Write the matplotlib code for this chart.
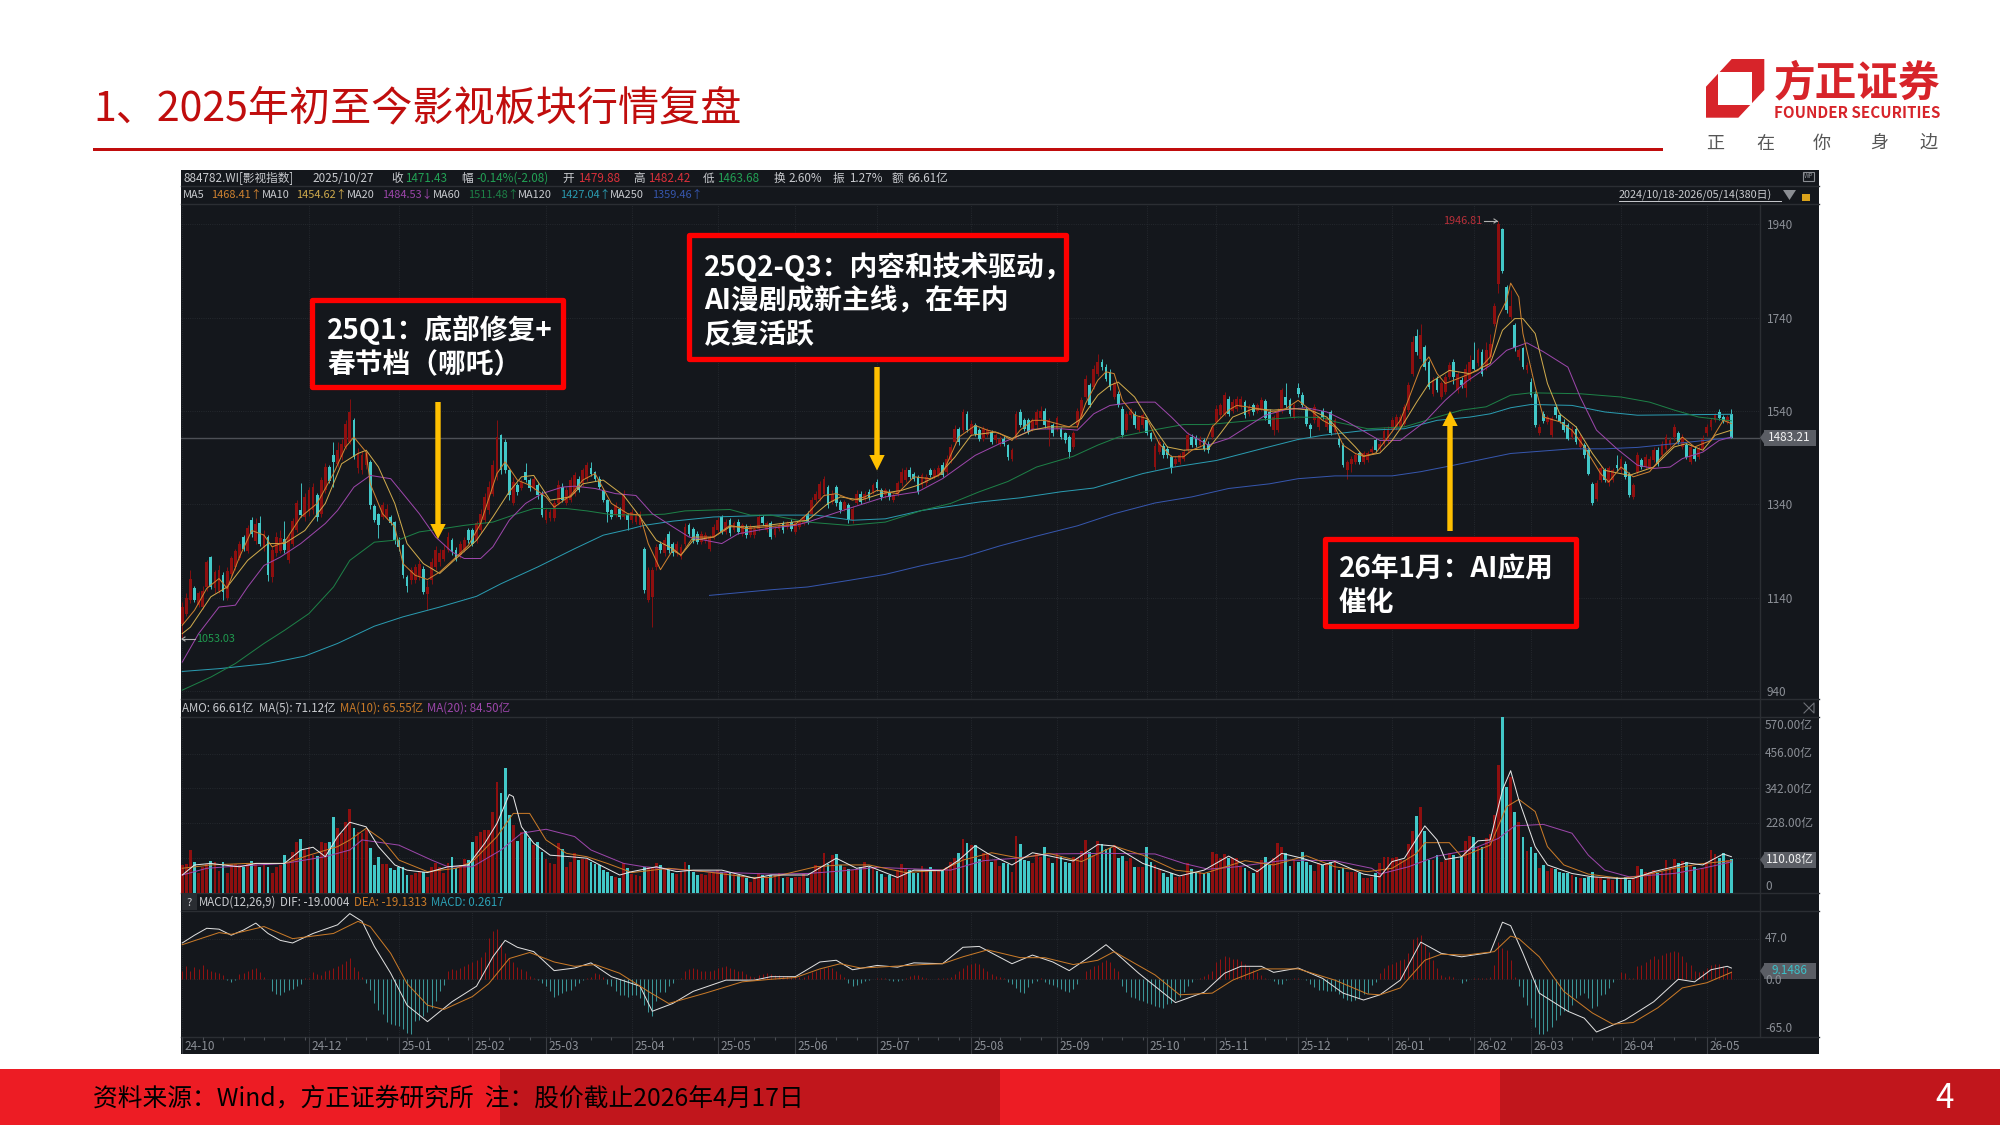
import numpy as np
import matplotlib
matplotlib.use('Agg')
import matplotlib.pyplot as plt
from matplotlib.patches import Rectangle, Polygon

plt.rcParams['font.family'] = ['Noto Sans CJK SC', 'DejaVu Sans']

# K线 (380 根, 2024/10/18 - 2026/05/14)
opens = [1084,1105,1135,1160,1125,1120,1163,1227,1160,1155,
 1188,1140,1190,1205,1225,1270,1240,1306,1262,1299,
 1248,1270,1185,1235,1240,1266,1220,1255,1285,1327,
 1313,1325,1327,1359,1320,1370,1420,1445,1427,1442,
 1463,1474,1520,1417,1413,1424,1431,1336,1320,1313,
 1313,1313,1302,1263,1252,1184,1177,1177,1184,1202,
 1149,1177,1206,1216,1224,1242,1263,1242,1231,1242,
 1284,1284,1263,1284,1306,1327,1363,1398,1488,1474,
 1413,1342,1381,1374,1409,1392,1374,1381,1363,1306,
 1310,1310,1342,1377,1342,1349,1363,1395,1385,1395,
 1417,1409,1395,1370,1349,1327,1317,1331,1313,1317,
 1306,1302,1295,1245,1135,1142,1206,1256,1235,1277,
 1256,1235,1228,1256,1295,1288,1277,1260,1263,1245,
 1270,1285,1313,1281,1306,1284,1302,1277,1292,1274,
 1274,1288,1313,1284,1299,1275,1287,1299,1292,1302,
 1281,1292,1299,1320,1320,1349,1352,1363,1377,1345,
 1377,1345,1331,1338,1306,1342,1363,1352,1367,1367,
 1388,1370,1359,1367,1349,1363,1385,1392,1413,1406,
 1399,1381,1385,1413,1399,1402,1424,1409,1434,1474,
 1502,1499,1534,1491,1509,1499,1481,1488,1495,1477,
 1470,1481,1467,1438,1484,1538,1521,1520,1502,1509,
 1524,1541,1502,1509,1502,1502,1492,1484,1463,1509,
 1527,1570,1595,1592,1620,1645,1634,1624,1570,1577,
 1545,1499,1531,1534,1499,1509,1520,1492,1420,1452,
 1466,1459,1442,1427,1431,1438,1456,1484,1483,1467,
 1477,1470,1484,1517,1531,1534,1566,1541,1545,1549,
 1559,1534,1552,1541,1545,1561,1538,1499,1499,1541,
 1570,1563,1527,1590,1574,1545,1509,1520,1506,1541,
 1506,1538,1495,1481,1467,1413,1427,1431,1449,1431,
 1434,1452,1477,1459,1470,1477,1499,1506,1506,1513,
 1542,1620,1700,1652,1677,1645,1577,1609,1570,1581,
 1613,1645,1584,1606,1590,1609,1650,1642,1667,1634,
 1656,1727,1813,1929,1806,1742,1724,1656,1674,1627,
 1602,1577,1492,1534,1517,1488,1549,1531,1517,1509,
 1484,1502,1463,1467,1456,1384,1352,1392,1413,1385,
 1392,1424,1413,1427,1406,1356,1410,1434,1420,1420,
 1434,1456,1445,1459,1467,1484,1492,1463,1467,1431,
 1459,1442,1459,1492,1506,1520,1538,1527,1517,1534]
closes = [1120,1140,1180,1135,1150,1155,1216,1163,1195,1200,
 1152,1198,1225,1240,1256,1245,1290,1277,1298,1256,
 1276,1188,1242,1270,1268,1242,1270,1305,1342,1317,
 1356,1370,1377,1313,1392,1420,1391,1431,1456,1470,
 1513,1538,1442,1449,1445,1449,1338,1306,1295,1338,
 1331,1299,1263,1249,1188,1165,1199,1206,1213,1152,
 1163,1216,1242,1235,1242,1270,1238,1224,1256,1263,
 1263,1256,1299,1320,1356,1377,1424,1484,1413,1413,
 1360,1388,1367,1388,1392,1374,1395,1360,1317,1327,
 1324,1342,1381,1349,1370,1392,1402,1370,1413,1424,
 1406,1395,1377,1349,1324,1313,1338,1313,1360,1306,
 1324,1320,1320,1156,1199,1199,1249,1242,1263,1242,
 1235,1256,1249,1292,1277,1263,1260,1277,1274,1270,
 1292,1306,1281,1302,1279,1299,1281,1295,1274,1292,
 1288,1313,1299,1299,1270,1288,1295,1284,1299,1288,
 1299,1302,1313,1302,1349,1363,1384,1395,1338,1363,
 1342,1327,1345,1306,1331,1363,1345,1363,1356,1381,
 1374,1356,1370,1356,1359,1385,1409,1413,1399,1395,
 1367,1402,1399,1402,1413,1417,1402,1438,1463,1502,
 1474,1538,1499,1513,1491,1481,1502,1499,1474,1488,
 1481,1470,1442,1456,1534,1509,1502,1495,1520,1538,
 1541,1509,1520,1492,1524,1484,1477,1452,1492,1541,
 1563,1609,1552,1631,1645,1634,1609,1592,1599,1552,
 1488,1534,1541,1509,1527,1531,1492,1481,1466,1474,
 1445,1445,1417,1438,1445,1452,1488,1467,1467,1481,
 1459,1456,1506,1545,1552,1574,1534,1559,1566,1566,
 1531,1549,1538,1552,1563,1524,1513,1527,1541,1584,
 1552,1534,1552,1577,1552,1513,1502,1549,1524,1527,
 1524,1492,1520,1467,1424,1431,1438,1445,1431,1449,
 1449,1459,1456,1470,1498,1502,1520,1527,1527,1549,
 1595,1688,1666,1702,1634,1592,1606,1584,1599,1613,
 1638,1613,1620,1595,1631,1645,1630,1670,1620,1670,
 1684,1766,1941,1839,1756,1766,1674,1670,1634,1638,
 1574,1509,1506,1519,1527,1524,1531,1519,1499,1481,
 1502,1474,1484,1445,1406,1342,1386,1417,1392,1417,
 1413,1417,1438,1399,1360,1381,1445,1420,1442,1438,
 1456,1427,1470,1484,1477,1506,1474,1484,1442,1463,
 1438,1459,1481,1506,1520,1531,1524,1519,1527,1483.21]
highs = [1130,1150,1199,1165,1155,1165,1220,1230,1200,1210,
 1195,1205,1230,1245,1262,1275,1295,1312,1310,1316,
 1285,1275,1250,1280,1285,1305,1278,1310,1350,1385,
 1365,1378,1385,1365,1398,1428,1425,1474,1474,1480,
 1520,1566,1525,1460,1455,1455,1436,1340,1322,1345,
 1340,1318,1305,1270,1255,1188,1205,1212,1220,1208,
 1177,1225,1250,1245,1255,1280,1268,1248,1262,1270,
 1290,1290,1305,1330,1365,1390,1435,1520,1490,1480,
 1415,1398,1385,1395,1428,1396,1400,1385,1368,1332,
 1330,1350,1392,1385,1378,1398,1410,1400,1418,1430,
 1430,1412,1400,1375,1352,1330,1345,1335,1370,1322,
 1330,1326,1326,1248,1205,1205,1255,1262,1270,1282,
 1260,1262,1255,1300,1300,1292,1282,1283,1280,1275,
 1298,1312,1318,1308,1310,1305,1308,1300,1298,1298,
 1294,1320,1318,1305,1305,1293,1300,1304,1304,1308,
 1304,1307,1318,1325,1355,1368,1390,1400,1382,1370,
 1382,1350,1350,1342,1336,1370,1368,1368,1372,1386,
 1395,1374,1375,1372,1365,1390,1418,1420,1420,1410,
 1403,1408,1405,1418,1418,1424,1430,1445,1470,1510,
 1506,1545,1540,1520,1515,1503,1508,1504,1500,1493,
 1486,1486,1470,1460,1540,1545,1525,1525,1525,1544,
 1550,1546,1525,1514,1530,1506,1496,1488,1498,1546,
 1570,1618,1600,1638,1663,1652,1640,1630,1605,1582,
 1550,1540,1546,1540,1532,1536,1525,1496,1472,1480,
 1472,1464,1446,1443,1450,1458,1495,1490,1489,1486,
 1482,1475,1512,1552,1558,1580,1572,1565,1572,1572,
 1564,1555,1558,1558,1570,1566,1544,1532,1546,1590,
 1599,1568,1558,1600,1580,1550,1514,1555,1530,1546,
 1530,1543,1525,1486,1472,1436,1443,1450,1454,1454,
 1454,1464,1482,1475,1505,1508,1528,1533,1533,1555,
 1602,1700,1716,1727,1682,1650,1612,1615,1605,1620,
 1645,1652,1626,1612,1640,1660,1688,1676,1672,1688,
 1706,1772,1946.81,1932,1810,1799,1728,1675,1678,1644,
 1610,1582,1512,1540,1532,1530,1555,1536,1522,1514,
 1508,1508,1490,1472,1460,1388,1392,1423,1418,1423,
 1418,1446,1444,1432,1410,1386,1452,1440,1448,1444,
 1462,1462,1476,1490,1484,1513,1498,1490,1472,1470,
 1464,1465,1488,1512,1525,1536,1545,1532,1532,1544]
lows = [1053,1100,1128,1130,1120,1115,1155,1158,1150,1150,
 1135,1135,1185,1200,1220,1240,1235,1270,1255,1250,
 1240,1175,1173,1230,1235,1235,1215,1250,1280,1313,
 1305,1315,1320,1305,1312,1365,1385,1377,1420,1435,
 1458,1470,1437,1408,1405,1415,1330,1302,1267,1308,
 1308,1295,1255,1240,1183,1153,1170,1172,1178,1148,
 1113,1170,1200,1208,1218,1238,1232,1218,1225,1238,
 1258,1250,1258,1278,1300,1320,1358,1392,1405,1408,
 1350,1338,1360,1370,1388,1368,1370,1352,1312,1300,
 1305,1305,1338,1345,1338,1345,1358,1366,1380,1390,
 1400,1390,1372,1345,1302,1308,1312,1308,1308,1285,
 1300,1298,1290,1150,1130,1078,1200,1236,1230,1235,
 1230,1230,1222,1250,1272,1258,1255,1255,1258,1240,
 1265,1280,1276,1276,1272,1280,1276,1272,1268,1270,
 1268,1282,1295,1280,1265,1270,1282,1278,1288,1283,
 1276,1288,1295,1298,1315,1344,1347,1358,1332,1340,
 1336,1322,1326,1300,1300,1338,1340,1348,1350,1362,
 1368,1350,1354,1350,1344,1358,1380,1387,1394,1390,
 1362,1376,1380,1398,1395,1398,1398,1404,1428,1468,
 1468,1494,1494,1486,1486,1476,1476,1484,1470,1472,
 1465,1465,1435,1432,1480,1505,1498,1490,1498,1504,
 1520,1504,1466,1486,1498,1480,1472,1440,1458,1504,
 1522,1565,1548,1588,1616,1628,1604,1586,1565,1548,
 1484,1494,1526,1504,1494,1504,1488,1476,1414,1448,
 1440,1440,1408,1422,1426,1433,1452,1462,1462,1462,
 1454,1450,1480,1512,1526,1530,1530,1536,1540,1544,
 1526,1530,1532,1536,1540,1520,1508,1488,1494,1536,
 1546,1530,1522,1570,1548,1508,1485,1515,1500,1522,
 1500,1488,1490,1462,1420,1395,1410,1426,1426,1426,
 1430,1448,1452,1455,1465,1472,1494,1500,1500,1508,
 1538,1615,1660,1648,1628,1588,1572,1580,1565,1576,
 1608,1598,1578,1590,1570,1604,1627,1636,1614,1628,
 1650,1722,1793,1835,1750,1738,1668,1650,1630,1622,
 1570,1505,1488,1514,1512,1484,1526,1514,1494,1477,
 1480,1470,1458,1440,1402,1338,1348,1388,1388,1380,
 1388,1412,1408,1395,1356,1352,1405,1415,1415,1415,
 1430,1422,1440,1454,1462,1478,1470,1458,1438,1427,
 1433,1438,1455,1487,1500,1516,1520,1514,1512,1483]

# 成交额 (亿)
amounts = [90,95,140,100,65,85,95,105,100,70,
 100,65,95,95,90,85,95,105,95,85,
 95,85,65,85,90,123,100,132,167,176,
 140,150,123,120,167,162,167,249,211,195,
 233,276,211,200,195,205,145,90,118,94,
 94,80,76,85,85,58,58,65,69,69,
 52,85,96,85,65,96,116,80,90,112,
 107,165,186,200,205,205,265,364,328,408,
 255,222,170,200,203,178,156,167,132,112,
 96,94,164,144,85,102,129,107,112,112,
 102,94,90,74,69,55,52,47,96,80,
 61,58,55,83,83,80,99,90,80,74,
 65,61,69,102,90,69,58,61,58,63,
 69,74,69,65,63,61,58,52,47,36,
 47,65,58,52,58,58,66,47,52,49,
 52,52,61,47,66,91,83,131,94,123,
 127,91,85,77,74,74,85,102,85,80,
 71,61,52,58,47,74,94,80,74,66,
 66,87,74,85,74,71,71,85,102,113,
 129,175,162,156,156,110,131,129,102,107,
 87,96,94,69,187,160,107,104,99,129,
 118,149,113,99,129,117,102,96,118,113,
 137,173,134,123,170,160,142,145,156,113,
 121,105,113,83,85,85,149,102,91,78,
 63,50,66,52,52,58,96,78,69,69,
 63,66,132,127,115,127,113,113,113,83,
 80,72,66,77,107,118,91,115,164,149,
 129,89,107,102,134,102,91,71,96,91,
 96,102,105,74,82,67,69,67,63,49,
 49,52,66,98,116,118,113,118,107,107,
 160,203,251,282,203,107,107,123,102,107,
 129,123,107,118,170,187,184,151,151,178,
 192,255,419,590,348,380,266,233,184,137,
 151,129,80,91,71,82,77,67,63,63,
 58,52,49,49,52,69,52,47,42,49,
 42,52,49,50,42,47,87,77,69,69,
 74,66,69,107,85,110,98,104,102,91,
 85,74,80,102,140,127,115,129,107,110.08]

# MACD 柱
macd_hist = [9,15,10,14,12,16,12,9,8,7,5,
 -1,-3,-1,6,7,9,12,13,8,3,0,
 -14,-17,-18,-15,-12,-11,-8,-5,
 1,2,8,6,5,9,11,13,15,18,21,25,14,9,3,
 -4,-12,-27,-35,-40,-50,-52,-53,-54,-58,-62,-63,-48,-47,-43,-38,-33,-25,-14,-7,
 9,12,11,13,15,18,20,22,26,32,48,56,58,42,30,25,20,14,12,9,4,1,
 -1,-4,-8,-14,-20,-18,-16,-14,-12,-8,-4,-1,
 1,3,7,6,3,
 -5,-8,-14,-18,-18,-20,-18,-18,-22,-30,-38,-42,-25,-15,-15,-8,-4,
 0,1,
 10,12,13,12,10,10,9,11,13,14,15,13,12,10,9,6,4,3,5,6,7,6,
 5,5,4,4,3,3,3,3,5,8,10,12,13,14,13,10,
 6,3,-4,-8,-7,-4,-2,-1,0,1,2,1,-1,-2,-2,-1,2,4,5,5,3,1,0,0,1,1,1,3,6,10,13,17,18,19,18,13,9,6,4,3,1,
 -3,-6,-10,-15,-16,-9,-4,-2,
 1,-3,-5,-7,-9,-11,-14,-15,-11,-6,0,
 10,12,15,17,20,22,20,13,9,
 -8,-15,-20,-22,-24,-25,-27,-29,-31,-32,-33,-29,-27,-24,-20,-15,-8,-3,
 0,2,4,6,10,20,24,27,26,24,23,21,18,14,11,8,5,2,0,-2,-5,-5,-1,0,1,1,0,-1,
 -6,-9,-12,-12,-13,-14,-14,-17,-22,-24,-25,-24,-22,-17,-16,-7,-3,
 7,13,17,18,20,22,24,30,47,49,51,40,32,22,13,5,3,4,3,0,-4,-2,0,1,1,1,2,3,17,43,36,34,22,3,
 -8,-20,-30,-45,-55,-63,-63,-60,-55,-47,-41,-37,-37,-30,-22,-18,-16,-22,-33,-31,-18,-17,-10,-3,
 0,8,7,2,2,15,17,20,24,27,24,28,30,32,33,32,27,20,17,9,8,9,13,17,18,18,15,13,9.15]

# 均线读数: 序号 / 数值
ma5_idx = [0,3,6,9,11,14,17,20,22,25,29,33,37,40,42,45,46,49,52,54,57,60,63,67,70,73,77,79,82,85,89,91,95,98,101,105,109,112,114,117,120,122,125,130,134,138,143,
 150,153,157,160,164,167,170,175,179,183,186,190,194,197,200,203,205,208,211,214,217,219,221,224,226,228,230,233,236,239,242,245,247,250,252,256,258,262,267,270,273,276,279,282,284,287,289,292,295,298,
 299,303,305,307,309,312,317,320,322,324,325,327,328,331,333,337,340,343,347,349,352,355,359,362,367,370,374,377,379]
ma5_val = [1081,1113,1160,1181,1160,1227,1284,1274,1249,1259,1313,1342,1406,1463,1484,1452,1384,1320,1292,1213,1188,1179,1195,1227,1252,1299,1406,1431,1392,1381,1356,1334,1359,1392,1406,1342,1320,1317,1256,1200,1242,1231,1270,1270,1295,1288,1292,
 1297,1320,1359,1363,1349,1356,1370,1363,1399,1395,1406,1484,1509,1499,1492,1477,1499,1520,1520,1513,1506,1506,1556,1606,1624,1620,1563,1531,1524,1470,1442,1442,1456,1467,1506,1542,1552,1547,1538,1545,1563,1542,1520,1506,1467,1449,1443,1450,1484,1520,
 1542,1634,1656,1620,1599,1609,1627,1656,1742,1777,1814,1784,1706,1592,1527,1517,1499,1463,1406,1388,1420,1399,1410,1442,1484,1463,1477,1520,1513]
ma10_idx = [0,2,7,11,16,21,25,30,35,39,43,45,48,52,55,59,63,67,72,76,80,83,86,90,95,98,103,108,112,116,120,122,125,130,134,139,143,
 153,158,161,166,171,176,180,185,189,193,199,203,208,212,217,220,224,227,229,233,237,241,245,251,254,257,262,267,272,276,280,283,287,289,293,296,298,
 302,305,310,315,320,323,326,328,331,334,337,341,345,348,354,360,365,368,372,375,379]
ma10_val = [1063,1077,1142,1163,1220,1256,1256,1284,1342,1427,1449,1456,1420,1342,1256,1213,1192,1224,1263,1313,1367,1399,1402,1349,1356,1384,1392,1359,1313,1263,1245,1231,1263,1270,1292,1292,1295,
 1306,1342,1356,1349,1363,1370,1381,1402,1441,1488,1495,1481,1499,1506,1506,1524,1574,1595,1602,1570,1513,1463,1456,1459,1492,1527,1545,1542,1545,1542,1527,1499,1463,1443,1450,1477,1502,
 1559,1599,1627,1620,1642,1713,1738,1738,1706,1599,1534,1506,1449,1413,1402,1420,1463,1470,1456,1488,1499]
ma20_idx = [0,4,9,13,16,20,24,29,35,38,42,46,51,54,58,62,66,69,73,76,80,84,88,93,96,101,106,111,115,120,124,128,132,136,143,
 150,153,163,172,180,186,194,200,205,208,215,219,223,227,233,238,242,246,251,256,261,265,270,275,280,285,290,293,298,
 304,309,314,320,324,329,333,339,342,346,351,356,360,364,367,372,376,379]
ma20_val = [1002,1063,1120,1124,1163,1209,1227,1256,1299,1327,1377,1402,1395,1363,1320,1270,1238,1224,1224,1249,1306,1342,1363,1377,1379,1374,1363,1359,1320,1292,1270,1263,1256,1277,1288,
 1295,1302,1331,1356,1367,1395,1445,1470,1488,1501,1502,1499,1534,1552,1559,1559,1527,1492,1467,1481,1509,1531,1543,1547,1538,1517,1492,1477,1477,
 1517,1563,1602,1638,1670,1686,1667,1634,1570,1499,1459,1424,1417,1420,1438,1452,1477,1484]
ma60_idx = [0,7,13,20,25,31,37,41,47,53,58,63,69,76,82,86,94,99,105,112,118,123,134,139,144,
 153,163,172,181,188,195,202,209,218,224,229,238,245,251,261,273,279,282,290,299,307,313,319,325,330,342,352,359,365,371,379]
ma60_val = [942,970,999,1042,1070,1106,1163,1220,1259,1264,1281,1287,1295,1302,1320,1331,1331,1326,1318,1317,1319,1326,1329,1317,1317,
 1302,1295,1302,1327,1342,1367,1389,1420,1443,1467,1484,1500,1511,1511,1519,1527,1526,1517,1502,1506,1527,1542,1549,1574,1579,1577,1570,1559,1542,1527,1519]
ma120_idx = [0,9,21,30,38,47,54,63,72,78,87,96,103,109,113,120,130,138,144,
 155,164,172,181,188,195,205,215,223,228,235,242,253,264,273,279,290,299,307,315,320,325,330,340,348,356,379]
ma120_val = [982,988,999,1015,1042,1079,1099,1120,1143,1170,1206,1245,1274,1286,1295,1304,1313,1315,1317,
 1317,1306,1309,1327,1336,1345,1354,1367,1375,1388,1406,1419,1434,1459,1479,1488,1499,1502,1520,1527,1534,1547,1554,1552,1538,1531,1533]
ma250_idx = [129,144,153,163,172,181,191,200,209,219,228,238,247,256,266,273,282,296,303,310,325,340,348,356,365,379]
ma250_val = [1145,1157,1163,1177,1190,1209,1227,1251,1272,1294,1320,1343,1356,1374,1384,1395,1401,1401,1410,1422,1449,1459,1459,1462,1470,1483]

amo5_idx = [0,3,7,10,14,18,25,29,32,35,38,41,45,48,52,55,60,65,70,74,77,80,81,83,86,90,95,99,103,107,110,116,121,125,132,140,144,
 153,160,165,168,175,179,186,190,194,197,203,208,212,218,224,228,235,244,250,256,263,269,274,279,282,289,
 293,296,299,304,307,309,313,317,320,323,325,327,331,334,340,345,351,355,360,365,368,372,377,379]
amo5_val = [58,91,96,91,85,96,96,140,149,118,184,231,216,151,91,74,66,85,91,162,227,322,315,216,162,123,118,113,85,58,69,85,69,74,74,47,58,
 58,113,80,87,50,74,72,107,154,129,91,131,121,104,158,153,96,55,74,120,69,129,113,91,102,61,
 52,102,113,219,173,109,118,170,173,337,400,304,151,91,63,52,47,47,69,85,98,91,127,118]
amo10_idx = [0,7,16,25,31,38,41,45,49,53,60,67,71,77,81,85,89,94,99,104,110,119,128,139,144,
 155,161,168,177,186,191,198,205,212,220,228,235,243,250,260,267,275,282,290,
 296,302,304,310,313,320,324,327,331,334,338,344,352,357,365,371,379]
amo10_val = [80,91,96,96,123,151,173,211,173,107,69,80,102,184,260,260,173,129,118,96,66,80,69,50,50,
 85,91,91,66,74,107,131,113,129,102,153,123,74,63,105,91,121,85,69,
 80,129,164,164,118,156,282,306,266,151,91,61,47,55,80,94,105]
amo20_idx = [0,6,11,25,35,41,44,53,61,65,71,78,83,89,96,100,108,113,128,144,
 153,161,170,181,188,196,204,212,226,238,245,251,258,270,282,291,
 293,300,307,315,322,326,333,340,344,348,354,365,372,379]
amo20_val = [58,80,85,96,118,140,173,156,107,85,85,140,195,208,184,140,96,85,69,61,
 63,71,83,77,74,105,113,127,129,127,96,77,85,107,105,80,
 61,85,120,140,178,219,224,195,123,74,52,63,80,101]

dif_idx = [0,3,6,9,12,15,18,21,24,27,32,38,41,44,47,51,55,60,66,72,76,79,82,86,91,96,100,105,112,115,120,125,133,140,144,
 150,156,160,164,170,175,179,186,191,195,203,208,213,217,222,226,229,234,243,250,255,259,264,267,273,279,284,289,
 293,298,303,308,313,320,323,325,328,332,339,343,346,350,353,360,366,370,374,378,379]
dif_val = [42,51,59,58,51,57,65,53,45,42,53,63,76,67,38,7,-30,-49,-26,-8,26,45,37,32,10,13,19,3,-8,-37,-28,-14,-1,-1,3,
 3,20,22,11,16,14,19,18,37,38,18,28,20,10,26,40,28,7,-27,-15,7,15,15,8,13,1,-16,-24,
 -18,-1,43,30,26,31,66,62,30,-16,-37,-45,-61,-53,-47,-26,0,-3,11,15,13]
dea_idx = [0,9,12,20,27,37,43,46,51,55,60,64,71,75,80,85,91,96,101,107,114,119,128,137,144,
 150,156,161,166,174,181,186,191,197,205,211,218,224,228,238,244,252,257,264,273,282,290,
 293,298,304,308,314,321,325,327,332,338,345,350,355,361,367,373,379]
dea_val = [40,54,52,61,47,53,67,61,30,-5,-30,-35,-20,-5,24,31,20,15,17,7,-14,-28,-16,-3,0,
 2,12,18,13,15,17,18,26,34,25,25,17,22,32,5,-18,-16,-1,12,12,-1,-17,
 -18,-10,22,29,28,32,50,47,26,-14,-39,-52,-50,-33,-10,-4,8]

month_idx = [0,31,53,71,89,110,131,150,170,193,214,236,253,273,296,316,330,352,373]
month_labels = ['24-10','24-12','25-01','25-02','25-03','25-04','25-05','25-06','25-07','25-08',
                '25-09','25-10','25-11','25-12','26-01','26-02','26-03','26-04','26-05']
price_ticks = [1940,1740,1540,1340,1140,940]
amount_grid = [114,228,342,456]
macd_grid = [47,0]

assert len(opens) == len(closes) == len(highs) == len(lows) == 380
assert len(amounts) == 380 and len(macd_hist) == 380

RED = '#8e0f0f'
TEAL = '#42c8c8'
PANEL = '#14171c'
LINE = '#2b2e33'
GRID = '#2a2e34'
GRAY = '#8b8f96'
LIGHT = '#c9cbcf'
C_MA5, C_MA10, C_MA20 = '#cf8230', '#cfaa4c', '#9c46aa'
C_MA60, C_MA120, C_MA250 = '#1d8047', '#2a9bb0', '#3656ad'
MA_LW = 0.72

W, H = 2000, 1125
fig = plt.figure(figsize=(W / 100, H / 100), dpi=100, facecolor='white')


def px_axes(x0, y0, x1, y1, z=1):
    a = fig.add_axes([x0 / W, 1 - y1 / H, (x1 - x0) / W, (y1 - y0) / H], zorder=z)
    a.set_facecolor('none')
    for s in a.spines.values():
        s.set_visible(False)
    return a


# 像素坐标层: 底板
bg = px_axes(0, 0, W, H, z=0)
bg.set_xlim(0, W)
bg.set_ylim(H, 0)
bg.axis('off')
bg.add_patch(Rectangle((181, 170), 1638, 884, color=PANEL, lw=0))
for y in [186, 204, 699, 717, 893, 911, 1037]:
    bg.plot([181, 1819], [y, y], color=LINE, lw=1)
bg.plot([1760, 1760], [204, 1037], color=LINE, lw=1)

x = np.arange(380)
o, c = np.array(opens, float), np.array(closes, float)
up = c >= o
cols = np.where(up, RED, TEAL)
X_LIM = (-0.3, 386)

# 主图
ax = px_axes(181, 204, 1760, 699, z=1)
ax.set_xlim(*X_LIM)
ax.set_ylim(923, 1983.5)
ax.set_xticks(month_idx)
ax.set_xticklabels([])
ax.set_yticks(price_ticks)
ax.yaxis.tick_right()
ax.tick_params(axis='both', length=0, pad=5, labelsize=8.5, labelcolor=GRAY)
ax.grid(True, color=GRID, ls=':', lw=0.6)
ax.set_axisbelow(True)
ax.axhline(1483.21, color='#4d5056', lw=1)
ax.vlines(x, lows, highs, colors=cols, lw=0.65, zorder=2)
ax.bar(x, np.abs(c - o), bottom=np.minimum(o, c), width=0.68, color=cols, lw=0, zorder=3)
for idx, val, col in [(ma250_idx, ma250_val, C_MA250), (ma120_idx, ma120_val, C_MA120),
                      (ma60_idx, ma60_val, C_MA60), (ma20_idx, ma20_val, C_MA20),
                      (ma10_idx, ma10_val, C_MA10), (ma5_idx, ma5_val, C_MA5)]:
    ax.plot(idx, val, color=col, lw=MA_LW, zorder=4)

# 成交额
ax2 = px_axes(181, 717, 1760, 892.7, z=1)
ax2.set_xlim(*X_LIM)
ax2.set_ylim(0, 576)
ax2.set_xticks(month_idx)
ax2.set_xticklabels([])
ax2.set_yticks(amount_grid)
ax2.set_yticklabels([])
ax2.tick_params(axis='both', length=0)
ax2.grid(True, color=GRID, ls=':', lw=0.6)
ax2.set_axisbelow(True)
ax2.bar(x, amounts, width=0.68, color=cols, lw=0, zorder=3)
for idx, val, col in [(amo20_idx, amo20_val, C_MA20), (amo10_idx, amo10_val, '#c97a28'), (amo5_idx, amo5_val, '#e6e6e6')]:
    ax2.plot(idx, val, color=col, lw=MA_LW, zorder=4)

# MACD
ax3 = px_axes(181, 911, 1760, 1037, z=1)
ax3.set_xlim(*X_LIM)
ax3.set_ylim(-66.8, 79)
ax3.set_xticks(month_idx)
ax3.set_xticklabels([])
ax3.set_yticks(macd_grid)
ax3.set_yticklabels([])
ax3.tick_params(axis='both', length=0)
ax3.grid(True, color=GRID, ls=':', lw=0.6)
ax3.set_axisbelow(True)
hist = np.array(macd_hist, float)
ax3.vlines(x, 0, hist, colors=np.where(hist >= 0, '#8e1212', '#3a9496'), lw=0.75, zorder=3)
ax3.plot(dif_idx, dif_val, color='#e0e0e0', lw=MA_LW, zorder=4)
ax3.plot(dea_idx, dea_val, color='#c97a28', lw=MA_LW, zorder=4)

# 日期轴
ax4 = px_axes(181, 1037, 1760, 1054, z=1)
ax4.set_xlim(*X_LIM)
ax4.set_ylim(1, 0)
ax4.axis('off')
ax4.vlines(np.arange(0, 380, 5), 0, 0.15, colors='#4a4d53', lw=0.8)
ax4.vlines(month_idx, 0, 1, colors='#3a3d43', lw=0.8)
for i, lab in zip(month_idx, month_labels):
    ax4.text(i + 0.6, 0.58, lab, color=GRAY, fontsize=8.5, va='center', ha='left')

# 像素坐标层: 文字与标注
top = px_axes(0, 0, W, H, z=5)
top.set_xlim(0, W)
top.set_ylim(H, 0)
top.axis('off')


def t(px, py, s, color=LIGHT, size=8, ha='left', weight='normal'):
    top.text(px, py, s, color=color, fontsize=size, ha=ha, va='center', fontweight=weight)


GREEN = '#22a155'
HRED = '#d8303a'
row1 = [(183, '884782.WI[影视指数]', LIGHT), (312, '2025/10/27', LIGHT), (391, '收', LIGHT), (405, '1471.43', GREEN),
        (461, '幅', LIGHT), (476, '-0.14%(-2.08)', GREEN), (562, '开', LIGHT), (578, '1479.88', HRED),
        (633, '高', LIGHT), (648, '1482.42', HRED), (703, '低', LIGHT), (717, '1463.68', GREEN),
        (774, '换', LIGHT), (788, '2.60%', LIGHT), (833, '振', LIGHT), (849, '1.27%', LIGHT),
        (892, '额', LIGHT), (907, '66.61亿', LIGHT)]
for px, s, col in row1:
    t(px, 178.5, s, col, 8.4)
row2 = [(183, 'MA5', LIGHT), (211, '1468.41↑', C_MA5), (262, 'MA10', LIGHT), (296, '1454.62↑', C_MA10),
        (347, 'MA20', LIGHT), (382, '1484.53↓', C_MA20), (433, 'MA60', LIGHT), (468, '1511.48↑', C_MA60),
        (518, 'MA120', LIGHT), (560, '1427.04↑', C_MA120), (610, 'MA250', LIGHT), (652, '1359.46↑', C_MA250)]
for px, s, col in row2:
    t(px, 195, s, col, 7.9)
t(1619, 195, '2024/10/18-2026/05/14(380日)', LIGHT, 7.8)
top.plot([1619, 1781], [201, 201], color=LIGHT, lw=0.7)
top.add_patch(Polygon([(1783, 190), (1796, 190), (1789.5, 200)], color='#8a8d92', lw=0))
top.add_patch(Rectangle((1802, 194), 8, 7, color='#d9a21b', lw=0))
top.add_patch(Rectangle((1803, 172), 11, 9, fill=False, ec='#8a8d92', lw=0.8))
top.text(1808.5, 176.5, 'WP', color='#8a8d92', fontsize=4.5, ha='center', va='center')
top.plot([1804, 1814, 1814, 1804], [703, 713, 703, 713], color='#6d7076', lw=0.8)

amo_row = [(182, 'AMO: 66.61亿', LIGHT), (259, 'MA(5): 71.12亿', LIGHT), (340, 'MA(10): 65.55亿', '#c97a28'), (427, 'MA(20): 84.50亿', C_MA20)]
for px, s, col in amo_row:
    t(px, 708.5, s, col, 8.3)
top.add_patch(Rectangle((182, 894), 15, 16, color='#2a2d32', lw=0))
t(189.5, 902.5, '?', LIGHT, 8, ha='center')
macd_row = [(199, 'MACD(12,26,9)', LIGHT), (280, 'DIF: -19.0004', LIGHT), (354, 'DEA: -19.1313', '#c97a28'), (431, 'MACD: 0.2617', '#2b9fb3')]
for px, s, col in macd_row:
    t(px, 902.5, s, col, 8.3)

# 右侧刻度
for py, s in [(725, '570.00亿'), (753, '456.00亿'), (789, '342.00亿'), (823, '228.00亿'), (886, '0'),
              (939, '47.0'), (980, '0.0'), (1029, '-65.0')]:
    t(1765, py, s, GRAY, 8.5)


def tag(py0, py1, s, col):
    top.add_patch(Polygon([(1760, (py0 + py1) / 2), (1764, py0 + 2), (1764, py1 - 2)], color='#5b5e65', lw=0))
    top.add_patch(Rectangle((1764, py0), 51.5, py1 - py0, color='#5b5e65', lw=0))
    t(1789.5, (py0 + py1) / 2, s, col, 8.5, ha='center')


tag(430, 445.5, '1483.21', '#f2f2f2')
tag(852, 867.5, '110.08亿', '#f2f2f2')
tag(963, 979, '9.1486', '#3cc0c8')

t(1482, 221, '1946.81', '#b9303a', 7.8, ha='right')
top.plot([1484, 1497], [221, 221], color='#b0b0b0', lw=0.8)
top.plot([1494, 1497, 1494], [219, 221, 223], color='#b0b0b0', lw=0.8)
t(196, 639, '1053.03', '#1f9a4f', 7.8)
top.plot([182, 195], [639, 639], color='#b0b0b0', lw=0.8)
top.plot([185, 182, 185], [637, 639, 641], color='#b0b0b0', lw=0.8)


def box(x0, y0, x1, y1, lines, tx, ys):
    top.add_patch(Rectangle((x0, y0), x1 - x0, y1 - y0, fc=PANEL, ec='#fe0000', lw=3.8, joinstyle='round'))
    for s, py in zip(lines, ys):
        t(tx, py, s, 'white', 20, weight='bold')


box(312, 300, 563, 387, ['25Q1：底部修复+', '春节档（哪吒）'], 327, [329.5, 364])
box(689, 235, 1066, 359, ['25Q2-Q3：内容和技术驱动，', 'AI漫剧成新主线，在年内', '反复活跃'], 704, [266.5, 300.5, 335.5])
box(1325, 539, 1576, 626, ['26年1月：AI应用', '催化'], 1339, [569, 602.5])


def arrow(xc, tail, base, tip):
    top.add_patch(Polygon([(xc - 2.7, tail), (xc + 2.7, tail), (xc + 2.7, base), (xc + 7.7, base),
                           (xc, tip), (xc - 7.7, base), (xc - 2.7, base)], color='#ffc000', lw=0))


arrow(438, 402, 524, 539)
arrow(877, 367, 455, 470.5)
arrow(1450, 531, 426, 411)

# 页面: 标题, 页脚, 标志
t(93, 109, '1、2025年初至今影视板块行情复盘', '#c00d0d', 29.6)
top.add_patch(Rectangle((93, 147.5), 1570, 3.5, color='#c00d0d', lw=0))
for x0, col in [(0, '#ed1c24'), (500, '#c1161c'), (1000, '#ed1c24'), (1500, '#c1161c')]:
    top.add_patch(Rectangle((x0, 1069), 500, 56, color=col, lw=0))
t(93, 1099, '资料来源：Wind，方正证券研究所  注：股价截止2026年4月17日', 'black', 17.8)
t(1945, 1098, '4', 'white', 24, ha='center')

LOGO = '#d7242a'
top.add_patch(Polygon([(1731.7, 59), (1764.3, 59), (1764.3, 90), (1738.3, 117.7), (1706, 117.7), (1706, 86.7)], color=LOGO, lw=0))
top.add_patch(Rectangle((1718.3, 71.7), 33.3, 33.3, color='white', lw=0))
t(1857, 83, '方正证券', LOGO, 30, ha='center', weight='bold')
t(1857, 113, 'FOUNDER SECURITIES', LOGO, 10.9, ha='center', weight='bold')
for px, s in [(1715, '正'), (1765, '在'), (1822, '你'), (1879, '身'), (1929, '边')]:
    t(px, 144, s, '#555555', 13, ha='center')

fig.savefig('out.png', dpi=100, facecolor='white')
